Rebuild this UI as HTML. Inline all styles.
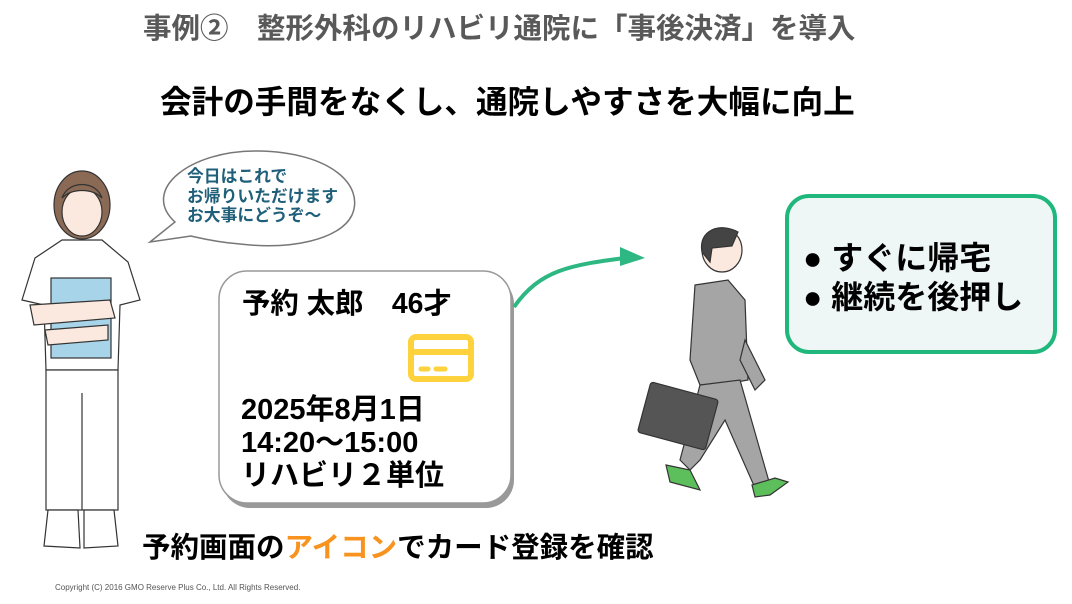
<!DOCTYPE html>
<html><head><meta charset="utf-8"><style>
body{margin:0;width:1072px;height:604px;background:#fff;position:relative;overflow:hidden;font-family:"Liberation Sans","Noto Sans CJK JP",sans-serif;}
.a{position:absolute;white-space:nowrap;font-weight:bold;}
</style></head><body>
<svg width="1072" height="604" style="position:absolute;left:0;top:0">
<path d="M150,242 L175,222 C140,190 190,150 258,151 C330,152 365,185 352,215 C340,240 290,250 240,244 C215,242 200,238 191,236 Z" fill="#fff" stroke="#777" stroke-width="1.5"/>
<g stroke="#333" stroke-width="1.2" fill="#fff">
<ellipse cx="82" cy="205" rx="28" ry="34" fill="#8a6a55"/>
<ellipse cx="82" cy="212" rx="20" ry="24" fill="#fbe9df"/>
<path d="M62,198 C68,180 96,180 102,198 C92,188 72,188 62,198Z" fill="#8a6a55"/>
<path d="M35,258 L62,240 L102,240 L128,262 L140,300 L120,305 L118,370 L46,370 L44,305 L22,300 Z"/>
<rect x="46" y="370" width="72" height="140"/>
<line x1="82" y1="393" x2="82" y2="510"/>
<path d="M48,510 L78,510 L80,548 L44,546Z"/><path d="M84,510 L114,510 L118,546 L84,548Z"/>
<rect x="51" y="278" width="60" height="80" fill="#a8d4ea"/>
<path d="M30,305 L110,300 L115,318 L34,325Z" fill="#fbe9df"/>
<path d="M45,330 L108,325 L108,340 L48,345Z" fill="#fbe9df"/>
</g>
<rect x="222" y="276" width="292" height="232" rx="28" fill="#999"/>
<rect x="219" y="271" width="292" height="232" rx="28" fill="#fff" stroke="#999" stroke-width="1.5"/>
<rect x="411" y="337" width="60" height="42" rx="5" fill="none" stroke="#fdd23c" stroke-width="6"/>
<line x1="411" y1="352" x2="471" y2="352" stroke="#fdd23c" stroke-width="6"/>
<line x1="421" y1="369" x2="428" y2="369" stroke="#fdd23c" stroke-width="5" stroke-linecap="round"/>
<line x1="436" y1="369" x2="445" y2="369" stroke="#fdd23c" stroke-width="5" stroke-linecap="round"/>
<path d="M514,307 C540,270 570,265 625,258" fill="none" stroke="#2db783" stroke-width="4"/>
<path d="M620,247 L645,258 L620,266Z" fill="#2db783"/>
<g stroke="#333" stroke-width="1.2">
<ellipse cx="722" cy="250" rx="20" ry="22" fill="#fbe9df"/>
<path d="M702,252 C698,230 720,222 738,232 L732,246 L712,248 L710,262 Z" fill="#444"/>
<path d="M695,285 L728,280 L745,300 L748,380 L720,385 L700,385 L690,360 Z" fill="#a5a5a5"/>
<path d="M700,385 L740,380 L770,485 L755,488 L725,420 L700,460 L690,470 L680,460 Z" fill="#a5a5a5"/>
<path d="M745,340 L765,380 L755,390 L740,360Z" fill="#a5a5a5"/>
<rect x="643" y="390" width="70" height="52" rx="3" fill="#555" transform="rotate(15 678 416)"/>
<path d="M666,465 L690,470 L700,490 L670,482Z" fill="#5cbf5c"/>
<path d="M752,485 L775,478 L788,482 L770,495 L755,497Z" fill="#5cbf5c"/>
</g>
<rect x="787" y="196" width="268" height="156" rx="22" fill="#eef7f5" stroke="#1fb77c" stroke-width="4"/>
</svg>
<div class="a" style="left:143px;top:12px;font-size:28.5px;line-height:34px;color:#595959;">事例②　整形外科のリハビリ通院に「事後決済」を導入</div>
<div class="a" style="left:160px;top:83px;font-size:31.6px;line-height:38px;color:#000;">会計の手間をなくし、通院しやすさを大幅に向上</div>
<div class="a" style="left:187px;top:167px;font-size:16.8px;line-height:19.5px;color:#1f5f7a;">今日はこれで<br>お帰りいただけます<br>お大事にどうぞ～</div>
<div class="a" style="left:242px;top:287px;font-size:28.4px;line-height:34px;color:#000;">予約 太郎　46才</div>
<div class="a" style="left:241px;top:394px;font-size:29px;line-height:33px;color:#000;">2025年8月1日<br>14:20～15:00<br>リハビリ２単位</div>
<div class="a" style="left:142px;top:531px;font-size:28.5px;line-height:34px;color:#000;">予約画面の<span style="color:#f7931e">アイコン</span>でカード登録を確認</div>
<div class="a" style="left:803px;top:239px;font-size:32px;line-height:39px;color:#000;">● すぐに帰宅<br>● 継続を後押し</div>
<div class="a" style="left:55px;top:583px;font-size:8px;font-weight:normal;color:#555;">Copyright (C) 2016 GMO Reserve Plus Co., Ltd. All Rights Reserved.</div>
</body></html>
